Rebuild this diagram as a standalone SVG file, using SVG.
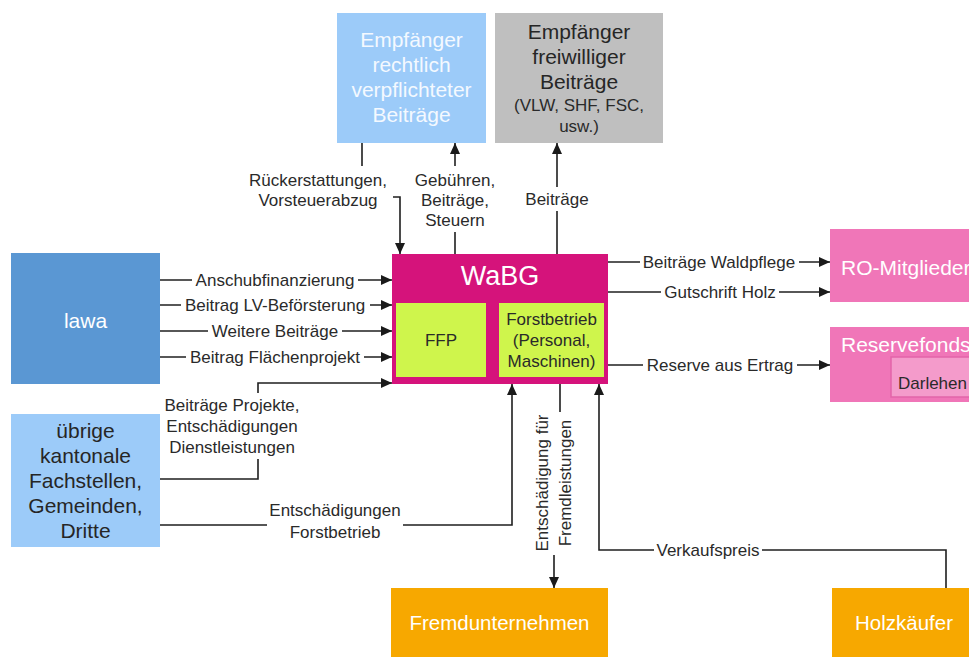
<svg xmlns="http://www.w3.org/2000/svg" width="969" height="657" viewBox="0 0 969 657">
<defs>
<marker id="arr" markerUnits="userSpaceOnUse" markerWidth="11" markerHeight="10" refX="11" refY="5" orient="auto">
<path d="M0,0 L11,5 L0,10 z" fill="#1a1a1a"/>
</marker>
<style>
text{font-family:"Liberation Sans",Arial,sans-serif}
.lbl{font-size:17px;fill:#2a2a2a;text-anchor:middle}
.big{font-size:21px;text-anchor:middle}
.con{fill:none;stroke:#1f1f1f;stroke-width:1.6}
.arr{marker-end:url(#arr)}
.bg{fill:#fff}
</style>
</defs>
<rect width="969" height="657" fill="#fff"/>

<g id="connectors">
<path class="con arr" d="M362,143 V197 H400 V254"/>
<path class="con arr" d="M455,254 V143"/>
<path class="con arr" d="M557,254 V143"/>
<path class="con arr" d="M160,280 H392"/>
<path class="con arr" d="M160,305 H392"/>
<path class="con arr" d="M160,331 H392"/>
<path class="con arr" d="M160,357 H392"/>
<path class="con arr" d="M160,479 H258 V383 H392"/>
<path class="con arr" d="M160,525 H512 V384"/>
<path class="con arr" d="M608,262 H830"/>
<path class="con arr" d="M608,292 H830"/>
<path class="con arr" d="M608,365 H830"/>
<path class="con arr" d="M560,384 V480 H554 V588"/>
<path class="con arr" d="M946,588 V550 H599 V384"/>
<!-- label backgrounds -->
<rect class="bg" x="245" y="166" width="148" height="45"/>
<rect class="bg" x="412" y="166" width="88" height="66"/>
<rect class="bg" x="520" y="187" width="74" height="24"/>
<rect class="bg" x="163" y="393" width="140" height="66"/>
<rect class="bg" x="267" y="497" width="136" height="46"/>
<rect class="bg" x="531" y="412" width="46" height="143"/>
<rect class="bg" x="192" y="270" width="166" height="20"/>
<rect class="bg" x="181" y="295" width="189" height="20"/>
<rect class="bg" x="208" y="321" width="134" height="20"/>
<rect class="bg" x="186" y="347" width="178" height="20"/>
<rect class="bg" x="640" y="252" width="159" height="20"/>
<rect class="bg" x="661" y="282" width="118" height="20"/>
<rect class="bg" x="643" y="355" width="154" height="20"/>
<rect class="bg" x="654" y="540" width="108" height="20"/>
<text class="lbl" x="318" y="186">Rückerstattungen,</text>
<text class="lbl" x="318" y="206">Vorsteuerabzug</text>
<text class="lbl" x="455" y="186">Gebühren,</text>
<text class="lbl" x="455" y="206">Beiträge,</text>
<text class="lbl" x="455" y="226">Steuern</text>
<text class="lbl" x="557" y="205">Beiträge</text>
<text class="lbl" x="275" y="286">Anschubfinanzierung</text>
<text class="lbl" x="275" y="311">Beitrag LV-Beförsterung</text>
<text class="lbl" x="275" y="337">Weitere Beiträge</text>
<text class="lbl" x="275" y="363">Beitrag Flächenprojekt</text>
<text class="lbl" x="232" y="411">Beiträge Projekte,</text>
<text class="lbl" x="232" y="432">Entschädigungen</text>
<text class="lbl" x="232" y="453">Dienstleistungen</text>
<text class="lbl" x="335" y="516">Entschädigungen</text>
<text class="lbl" x="335" y="538">Forstbetrieb</text>
<text class="lbl" x="719" y="268">Beiträge Waldpflege</text>
<text class="lbl" x="720" y="298">Gutschrift Holz</text>
<text class="lbl" x="720" y="371">Reserve aus Ertrag</text>
<text class="lbl" x="708" y="556">Verkaufspreis</text>
<g transform="rotate(-90 554 483)">
<text class="lbl" x="554" y="477">Entschädigung für</text>
<text class="lbl" x="554" y="500">Fremdleistungen</text>
</g>
</g>

<g id="n-rechtlich">
<rect x="337" y="13" width="149" height="130" fill="#9ccbf9"/>
<text class="big" x="411.5" y="47" fill="#f4f9ff">Empfänger</text>
<text class="big" x="411.5" y="72" fill="#f4f9ff">rechtlich</text>
<text class="big" x="411.5" y="97" fill="#f4f9ff">verpflichteter</text>
<text class="big" x="411.5" y="122" fill="#f4f9ff">Beiträge</text>
</g>

<g id="n-freiwillig">
<rect x="495" y="13" width="168" height="130" fill="#bfbfbf"/>
<text class="big" x="579" y="39" fill="#262626">Empfänger</text>
<text class="big" x="579" y="64" fill="#262626">freiwilliger</text>
<text class="big" x="579" y="89" fill="#262626">Beiträge</text>
<text class="lbl" x="579" y="111" fill="#262626">(VLW, SHF, FSC,</text>
<text class="lbl" x="579" y="132" fill="#262626">usw.)</text>
</g>

<g id="n-lawa">
<rect x="11" y="253" width="149" height="131" fill="#5a97d3"/>
<text class="big" x="85.5" y="327.5" fill="#fff">lawa</text>
</g>

<g id="n-uebrige">
<rect x="11" y="414" width="149" height="133" fill="#9ccbf9"/>
<text class="big" x="85.5" y="437.5" fill="#262626">übrige</text>
<text class="big" x="85.5" y="462.5" fill="#262626">kantonale</text>
<text class="big" x="85.5" y="487.5" fill="#262626">Fachstellen,</text>
<text class="big" x="85.5" y="512.5" fill="#262626">Gemeinden,</text>
<text class="big" x="85.5" y="537.5" fill="#262626">Dritte</text>
</g>

<g id="n-wabg">
<rect x="392" y="254" width="216" height="130" fill="#d5137b"/>
<text x="500" y="285" font-size="27" text-anchor="middle" fill="#fff">WaBG</text>
</g>

<g id="n-ffp">
<rect x="396" y="303" width="90" height="74" fill="#cff54c"/>
<text class="lbl" x="441" y="346" fill="#2a2a2a">FFP</text>
</g>

<g id="n-forstbetrieb">
<rect x="499" y="303" width="105" height="74" fill="#cff54c"/>
<text class="lbl" x="551.5" y="325">Forstbetrieb</text>
<text class="lbl" x="551.5" y="346">(Personal,</text>
<text class="lbl" x="551.5" y="367">Maschinen)</text>
</g>

<g id="n-ro">
<rect x="830" y="229" width="145" height="73" fill="#f076b8"/>
<text x="841" y="274.5" font-size="21" fill="#fff">RO-Mitglieder</text>
</g>

<g id="n-reserve">
<rect x="830" y="327" width="145" height="75" fill="#f076b8"/>
<text x="841" y="352" font-size="21" fill="#fff">Reservefonds</text>
<g id="n-darlehen">
<rect x="891" y="357" width="84" height="40" fill="#f49bcb" stroke="#e264a9" stroke-width="1.5"/>
<text x="898" y="389" font-size="17" fill="#2a2a2a">Darlehen</text>
</g>
</g>

<g id="n-fremd">
<rect x="391" y="588" width="217" height="75" fill="#f7a800"/>
<text x="499.5" y="630" font-size="20.5" text-anchor="middle" fill="#fff">Fremdunternehmen</text>
</g>

<g id="n-holz">
<rect x="832" y="588" width="143" height="75" fill="#f7a800"/>
<text x="904" y="630" font-size="20.5" text-anchor="middle" fill="#fff">Holzkäufer</text>
</g>
</svg>
